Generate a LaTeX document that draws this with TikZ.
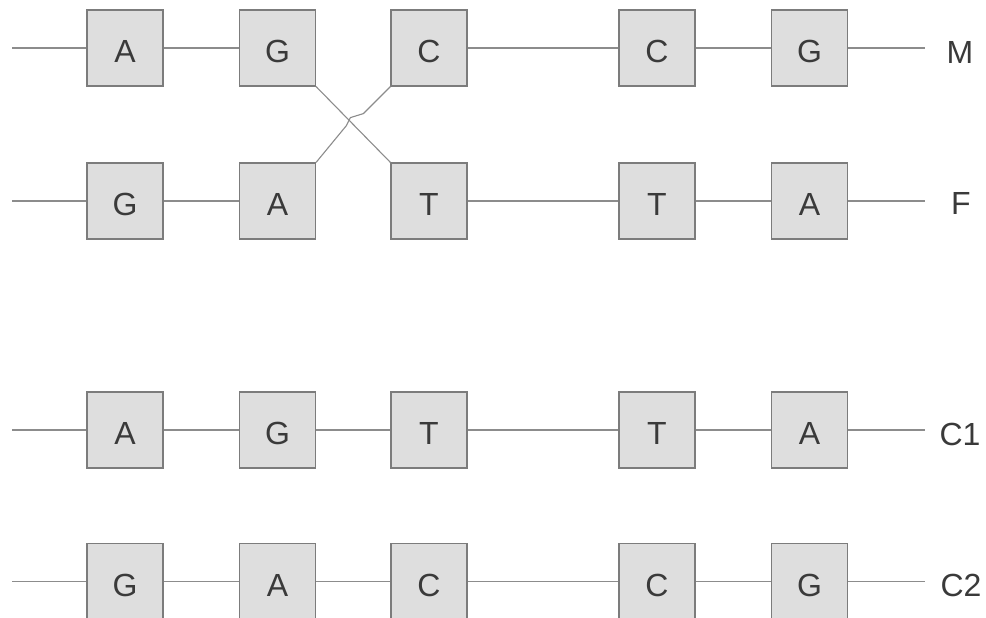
\documentclass[tikz,border=0pt]{standalone}
\usepackage{fontspec}
\setmainfont{Liberation Sans}
\definecolor{boxfill}{HTML}{DEDEDE}
\definecolor{boxline}{HTML}{7C7C7C}
\definecolor{wire}{HTML}{8C8C8C}
\definecolor{ink}{HTML}{3A3A3A}
\tikzset{
  base/.style={draw=boxline, fill=boxfill, line width=1.2pt, minimum size=76pt, inner sep=0pt,
    text height=29pt, text depth=0pt,
    text=ink, font=\fontsize{32}{32}\selectfont},
  wireline/.style={draw=wire, line width=1.1pt},
  rowlabel/.style={text=ink, font=\fontsize{32}{32}\selectfont, inner sep=0pt}
}
\begin{document}
\begin{tikzpicture}[x=1pt,y=-1pt]
\useasboundingbox (0,0) rectangle (986,618);
% row M
\node[base] (m1) at (125,48) {A};
\node[base] (m2) at (277.5,48) {G};
\node[base] (m3) at (429,48) {C};
\node[base] (m4) at (657,48) {C};
\node[base] (m5) at (809.5,48) {G};
\coordinate (ms) at (12,48);
\coordinate (me) at (925,48);
\node[rowlabel] (lm) at (960,52) {M};
% row F
\node[base] (f1) at (125,201) {G};
\node[base] (f2) at (277.5,201) {A};
\node[base] (f3) at (429,201) {T};
\node[base] (f4) at (657,201) {T};
\node[base] (f5) at (809.5,201) {A};
\coordinate (fs) at (12,201);
\coordinate (fe) at (925,201);
\node[rowlabel] (lf) at (961,203.5) {F};
% row C1
\node[base] (a1) at (125,430) {A};
\node[base] (a2) at (277.5,430) {G};
\node[base] (a3) at (429,430) {T};
\node[base] (a4) at (657,430) {T};
\node[base] (a5) at (809.5,430) {A};
\coordinate (as) at (12,430);
\coordinate (ae) at (925,430);
\node[rowlabel] (la) at (960,434) {C1};
% row C2
\node[base] (b1) at (125,581.5) {G};
\node[base] (b2) at (277.5,581.5) {A};
\node[base] (b3) at (429,581.5) {C};
\node[base] (b4) at (657,581.5) {C};
\node[base] (b5) at (809.5,581.5) {G};
\coordinate (bs) at (12,581.5);
\coordinate (be) at (925,581.5);
\node[rowlabel] (lb) at (961,585.5) {C2};
% wires
\draw[wireline] (ms) -- (m1.west) (m1.east) -- (m2.west) (m3.east) -- (m4.west) (m4.east) -- (m5.west) (m5.east) -- (me);
\draw[wireline] (fs) -- (f1.west) (f1.east) -- (f2.west) (f3.east) -- (f4.west) (f4.east) -- (f5.west) (f5.east) -- (fe);
\draw[wireline] (as) -- (a1.west) (a1.east) -- (a2.west) (a2.east) -- (a3.west) (a3.east) -- (a4.west) (a4.east) -- (a5.west) (a5.east) -- (ae);
\draw[wireline] (bs) -- (b1.west) (b1.east) -- (b2.west) (b2.east) -- (b3.west) (b3.east) -- (b4.west) (b4.east) -- (b5.west) (b5.east) -- (be);
% crossover
\draw[wireline] (m2.south east) -- (f3.north west);
\draw[wireline, line join=round] (m3.south west) -- ++(-27,27) -- ++(-13,4) -- ++(-4,8) -- (f2.north east);
\end{tikzpicture}
\end{document}
